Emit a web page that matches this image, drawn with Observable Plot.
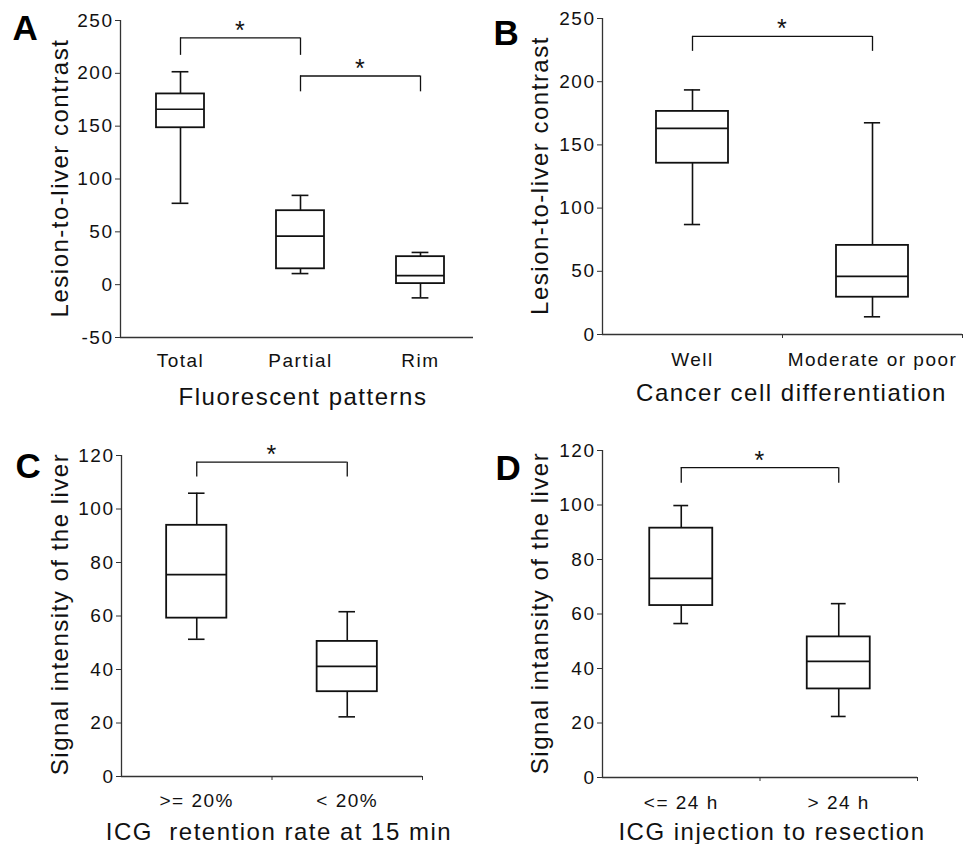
<!DOCTYPE html>
<html><head><meta charset="utf-8">
<script src="https://cdn.jsdelivr.net/npm/d3@7"></script>
<script src="https://cdn.jsdelivr.net/npm/@observablehq/plot@0.6"></script>
<style>
body{margin:0;background:#fff;}
#wrap{position:relative;width:964px;height:844px;background:#fff;}
.panel{position:absolute;}
</style></head><body><div id="wrap"></div>
<script>
// ---------- Panel A ----------
const catsA = ["Total", "Partial", "Rim"];
const lowA = [77, 10.5, -12.5];
const q1A = [148.5, 15, 1];
const medA = [166, 46, 8.5];
const q3A = [180.5, 70, 26.5];
const highA = [201.5, 84.5, 30.5];
const yTicksA = [-50, 0, 50, 100, 150, 200, 250];
const sigFromA = [0, 1], sigToA = [1, 2];
const sigTopA = [233.5, 197.5], sigLegA = [217, 182.5];

// ---------- Panel B ----------
const catsB = ["Well", "Moderate or poor"];
const lowB = [87, 14];
const q1B = [135.5, 29.5];
const medB = [163, 46];
const q3B = [176.5, 70.5];
const highB = [193.5, 167.5];
const yTicksB = [0, 50, 100, 150, 200, 250];
const sigFromB = [0], sigToB = [1];
const sigTopB = [235.8], sigLegB = [224];

// ---------- Panel C ----------
const catsC = [">= 20%", "< 20%"];
const lowC = [51.3, 22.3];
const q1C = [59.2, 31.7];
const medC = [75.5, 41.2];
const q3C = [93.9, 50.5];
const highC = [105.9, 61.6];
const yTicksC = [0, 20, 40, 60, 80, 100, 120];
const sigFromC = [0], sigToC = [1];
const sigTopC = [117.5], sigLegC = [112];

// ---------- Panel D ----------
const catsD = ["<= 24 h", "> 24 h"];
const lowD = [56.5, 22.4];
const q1D = [63.1, 32.5];
const medD = [73.1, 42.6];
const q3D = [91.5, 51.6];
const highD = [99.8, 63.8];
const yTicksD = [0, 20, 40, 60, 80, 100, 120];
const sigFromD = [0], sigToD = [1];
const sigTopD = [113.7], sigLegD = [108];

const ink = "#111";

function panel(o) {
  const n = o.cats.length;
  const idx = d3.range(n);
  const sig = d3.range(o.sigFrom.length);
  const half = 0.2;
  return Plot.plot({
    width: 482, height: 422,
    marginLeft: o.ml, marginRight: o.mr, marginTop: o.mt, marginBottom: o.mb,
    style: {fontFamily: "'Liberation Sans', Arial, sans-serif", fontSize: "19px", letterSpacing: "1.5px", color: ink, background: "#fff"},
    x: {domain: [-0.5, n - 0.5], range: o.xRange, axis: null},
    y: {domain: o.yDomain, axis: null},
    marks: [
      Plot.ruleX([-0.5], {stroke: "#333", strokeWidth: 1.3}),
      Plot.ruleY([o.yDomain[0]], {stroke: "#333", strokeWidth: 1.3}),
      Plot.axisY({ticks: o.yTicks, tickSize: 5, tickPadding: 2, tickFormat: d => String(d), stroke: "#333"}),
      Plot.axisX({ticks: idx, tickSize: 0, tickPadding: o.labPad, tickFormat: i => o.cats[i]}),
      Plot.axisX({ticks: o.bTicks, tickSize: 4, tickFormat: () => "", stroke: "#333"}),
      // whiskers
      Plot.ruleX(idx, {x: i => i, y1: i => o.q3[i], y2: i => o.high[i], stroke: ink, strokeWidth: 1.6}),
      Plot.ruleX(idx, {x: i => i, y1: i => o.low[i], y2: i => o.q1[i], stroke: ink, strokeWidth: 1.6}),
      Plot.ruleY(idx, {y: i => o.high[i], x1: i => i - o.cap, x2: i => i + o.cap, stroke: ink, strokeWidth: 1.6}),
      Plot.ruleY(idx, {y: i => o.low[i], x1: i => i - o.cap, x2: i => i + o.cap, stroke: ink, strokeWidth: 1.6}),
      // boxes
      Plot.rect(idx, {x1: i => i - half, x2: i => i + half, y1: i => o.q1[i], y2: i => o.q3[i], fill: "#fff", stroke: ink, strokeWidth: 1.8}),
      Plot.ruleY(idx, {y: i => o.med[i], x1: i => i - half, x2: i => i + half, stroke: ink, strokeWidth: 1.7}),
      // significance brackets
      Plot.ruleY(sig, {y: j => o.sigTop[j], x1: j => o.sigFrom[j], x2: j => o.sigTo[j], stroke: ink, strokeWidth: 1.3}),
      Plot.ruleX(sig, {x: j => o.sigFrom[j], y1: j => o.sigLeg[j], y2: j => o.sigTop[j], stroke: ink, strokeWidth: 1.3}),
      Plot.ruleX(sig, {x: j => o.sigTo[j], y1: j => o.sigLeg[j], y2: j => o.sigTop[j], stroke: ink, strokeWidth: 1.3}),
      Plot.text(sig, {x: j => (o.sigFrom[j] + o.sigTo[j]) / 2, y: j => o.sigTop[j], text: () => "*", dy: -7, fontSize: 25, fill: ink}),
      // titles
      Plot.text([o.yTitle], {text: d => d, frameAnchor: "left", rotate: -90, textAnchor: "middle", lineAnchor: "top", dx: o.yDx, dy: o.yDy, fontSize: 24, fill: ink}),
      Plot.text([o.xTitle], {text: d => d, frameAnchor: "bottom", textAnchor: "middle", lineAnchor: "top", dx: o.xDx, dy: o.xDy, fontSize: 24, fill: ink}),
      Plot.text([o.letter], {text: d => d, frameAnchor: "top-left", textAnchor: "start", lineAnchor: "top", dx: o.lDx, dy: o.lDy, fontSize: 35, fontWeight: "bold", fill: "#000", style: "letter-spacing:0"})
    ]
  });
}

const panels = [
  {left: 0, top: 0, cats: catsA, low: lowA, q1: q1A, med: medA, q3: q3A, high: highA, yTicks: yTicksA,
   sigFrom: sigFromA, sigTo: sigToA, sigTop: sigTopA, sigLeg: sigLegA,
   ml: 120, mr: 9, mt: 20, mb: 85, xRange: [120, 480], yDomain: [-50, 250], cap: 0.07, bTicks: [], labPad: 16,
   yTitle: "Lesion-to-liver contrast", yDx: -70, yDy: -1,
   xTitle: "Fluorescent patterns", xDx: 6, xDy: 50, letter: "A", lDx: -108, lDy: -5},
  {left: 482, top: 0, cats: catsB, low: lowB, q1: q1B, med: medB, q3: q3B, high: highB, yTicks: yTicksB,
   sigFrom: sigFromB, sigTo: sigToB, sigTop: sigTopB, sigLeg: sigLegB,
   ml: 120, mr: 2, mt: 18, mb: 88, xRange: undefined, yDomain: [0, 250], cap: 0.045, bTicks: [0.5, 1.5], labPad: 18,
   yTitle: "Lesion-to-liver contrast", yDx: -72, yDy: -1,
   xTitle: "Cancer cell differentiation", xDx: 9, xDy: 49, letter: "B", lDx: -109, lDy: 2},
  {left: 0, top: 422, cats: catsC, low: lowC, q1: q1C, med: medC, q3: q3C, high: highC, yTicks: yTicksC,
   sigFrom: sigFromC, sigTo: sigToC, sigTop: sigTopC, sigLeg: sigLegC,
   ml: 121, mr: 60, mt: 33, mb: 68, xRange: undefined, yDomain: [0, 120], cap: 0.055, bTicks: [0.5, 1.5], labPad: 17,
   yTitle: "Signal intensity of the liver", yDx: -71, yDy: -2,
   xTitle: "ICG\u00a0 retention rate at 15 min", xDx: 7, xDy: 46, letter: "C", lDx: -106, lDy: -2},
  {left: 482, top: 422, cats: catsD, low: lowD, q1: q1D, med: medD, q3: q3D, high: highD, yTicks: yTicksD,
   sigFrom: sigFromD, sigTo: sigToD, sigTop: sigTopD, sigLeg: sigLegD,
   ml: 120, mr: 47, mt: 28, mb: 67, xRange: undefined, yDomain: [0, 120], cap: 0.047, bTicks: [0.5, 1.5], labPad: 18,
   yTitle: "Signal intansity of the liver", yDx: -72, yDy: -1,
   xTitle: "ICG injection to resection", xDx: 12, xDy: 45, letter: "D", lDx: -107, lDy: 5}
];

const wrap = document.getElementById("wrap");
for (const p of panels) {
  const div = document.createElement("div");
  div.className = "panel";
  div.style.left = p.left + "px";
  div.style.top = p.top + "px";
  div.appendChild(panel(p));
  wrap.appendChild(div);
}
</script></body></html>
